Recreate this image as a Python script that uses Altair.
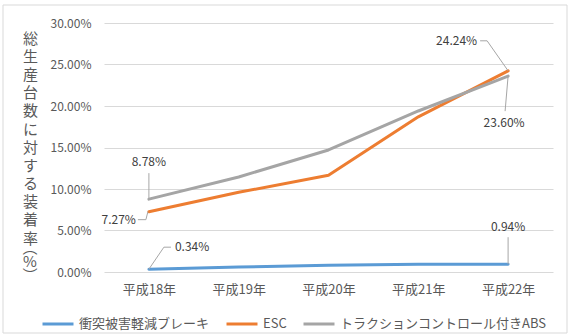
import altair as alt
import pandas as pd

years = ["平成18年", "平成19年", "平成20年", "平成21年", "平成22年"]
series_names = ["衝突被害軽減ブレーキ", "ESC", "トラクションコントロール付きABS"]
brake = [0.34, 0.60, 0.80, 0.92, 0.94]
esc = [7.27, 9.60, 11.65, 18.70, 24.24]
abs_tc = [8.78, 11.45, 14.70, 19.40, 23.60]
colors = ["#5B9BD5", "#ED7D31", "#A5A5A5"]
y_title = ["総", "生", "産", "台", "数", "に", "対", "す", "る", "装", "着", "率"]
y_title_tail = ["︵", "%", "︶"]
y_ticks = [0, 0.05, 0.10, 0.15, 0.20, 0.25, 0.30]

rows = []
for s, vals in zip(series_names, [brake, esc, abs_tc]):
    for yr, v in zip(years, vals):
        rows.append({"series": s, "year": yr, "v": v / 100})
df = pd.DataFrame(rows)

FONT = "Noto Sans CJK JP"
TXT = "#595959"

x_enc = alt.X(
    "year:N", sort=years,
    scale=alt.Scale(type="point", padding=0.5),
    axis=alt.Axis(title=None, labelAngle=0, domain=False, ticks=False, grid=False,
                  labelFontSize=13, labelColor=TXT, labelPadding=11, labelFont=FONT),
)
y_enc = alt.Y(
    "v:Q",
    scale=alt.Scale(domain=[0, 0.30]),
    axis=alt.Axis(values=y_ticks, format=".2%", domain=False, ticks=False, grid=True,
                  gridColor="#D9D9D9", labelFontSize=12, labelColor=TXT, labelPadding=13,
                  labelFont=FONT,
                  title=y_title, titleAngle=0, titleAlign="center", titleBaseline="top",
                  titleX=-74, titleY=8, titleFontSize=15, titleFontWeight="normal",
                  titleColor=TXT, titleLineHeight=18.2, titleFont=FONT),
)

lines = alt.Chart(df).mark_line(strokeWidth=3, strokeCap="round", strokeJoin="round").encode(
    x=x_enc, y=y_enc,
    color=alt.Color("series:N", sort=series_names,
                    scale=alt.Scale(domain=series_names, range=colors),
                    legend=alt.Legend(title=None, orient="none", legendX=-63, legendY=284,
                                      direction="horizontal", symbolType="stroke",
                                      symbolSize=961, symbolStrokeWidth=3,
                                      labelFontSize=13, labelColor=TXT, labelFont=FONT,
                                      labelLimit=400,
                                      columnPadding=10, labelOffset=4, padding=0)),
    order=alt.Order("series:N"),
)

# (series, year, align, dx, dy, leader segments [(x1,y1,x2,y2) offsets])
annotations = [
    ("トラクションコントロール付きABS", "平成18年", "center", 0, -37, [(0, 0, 0, -26)]),
    ("ESC", "平成18年", "right", -13, 8, [(-11, 8, -3, 8), (-3, 8, -1, 0)]),
    ("衝突被害軽減ブレーキ", "平成18年", "left", 26, -22, [(0, 0, 15, -22), (15, -22, 22, -22)]),
    ("ESC", "平成22年", "right", -31, -30, [(-28, -30, -21, -30), (-21, -30, 0, 0)]),
    ("トラクションコントロール付きABS", "平成22年", "center", -4, 47, [(0, 0, -3, 35)]),
    ("衝突被害軽減ブレーキ", "平成22年", "center", 0, -37, [(0, 0, 0, -27)]),
]

layers = [lines]
for s, yr, al, dx, dy, segs in annotations:
    base = alt.Chart(df).transform_filter(
        (alt.datum.series == s) & (alt.datum.year == yr)
    )
    layers.append(
        base.mark_text(align=al, baseline="middle", dx=dx, dy=dy, fontSize=12,
                       color="#404040", font=FONT).encode(
            x=alt.X("year:N", sort=years), y="v:Q",
            text=alt.Text("v:Q", format=".2%"))
    )
    for (ax, ay, bx, by) in segs:
        layers.append(
            base.mark_rule(color="#A6A6A6", strokeWidth=1,
                           xOffset=ax, yOffset=ay, x2Offset=bx, y2Offset=by).encode(
                x=alt.X("year:N", sort=years), y="v:Q",
                x2=alt.X2("year:N"), y2=alt.Y2("v:Q"))
        )

one = pd.DataFrame({"a": [0]})
tail = alt.Chart(one).mark_text(
    text=y_title_tail, align="center", baseline="top", fontSize=15, lineHeight=14,
    color=TXT, font=FONT).encode(x=alt.value(-74), y=alt.value(218))
layers.append(tail)

border = alt.Chart(one).mark_rect(
    filled=False, stroke="#D9D9D9", strokeWidth=1).encode(
    x=alt.value(-101), x2=alt.value(463), y=alt.value(-18), y2=alt.value(310))
layers.append(border)

chart = alt.layer(*layers).properties(
    width=449, height=249,
    autosize=alt.AutoSizeParams(type="none"),
    padding={"left": 104, "top": 23, "right": 20, "bottom": 64},
    background="white",
).configure(font=FONT).configure_view(strokeWidth=0)

chart.save("out.html", embed_options={"renderer": "svg", "actions": False})
